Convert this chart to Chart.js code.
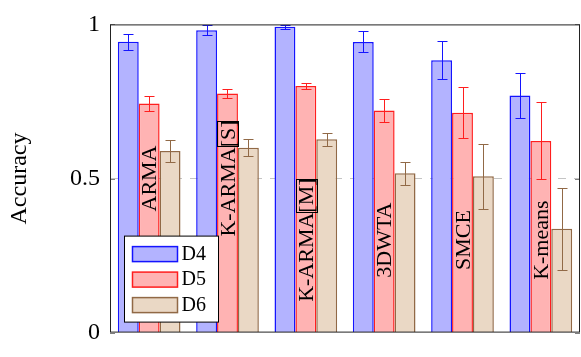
<!DOCTYPE html>
<html>
<head>
<meta charset="utf-8">
<script src="https://cdn.jsdelivr.net/npm/chart.js@4.4.1/dist/chart.umd.min.js"></script>
<style>
    body { margin: 0; background: #fff; }
    canvas { display: block; }
</style>
</head>
<body>
<canvas id="grafico" width="581" height="357"></canvas>
<script>
// --- DATA ---
const metodos = ['ARMA', 'K-ARMA[S]', 'K-ARMA[M]', '3DWTA', 'SMCE', 'K-means'];
const series = ['D4', 'D5', 'D6'];

const valoresD4 = [0.944, 0.981, 0.992, 0.943, 0.884, 0.769];
const valoresD5 = [0.743, 0.776, 0.800, 0.721, 0.713, 0.622];
const valoresD6 = [0.589, 0.600, 0.627, 0.517, 0.507, 0.337];

const errosD4 = [0.026, 0.017, 0.007, 0.034, 0.062, 0.072];
const errosD5 = [0.024, 0.014, 0.011, 0.038, 0.083, 0.125];
const errosD6 = [0.035, 0.028, 0.022, 0.038, 0.105, 0.133];

// where the method name sits inside the D5 bar (y value of its centre)
const posRotulos = [0.5, 0.5, 0.3, 0.3, 0.3, 0.3];
const yTicks = [0, 0.5, 1];

const fonte = "'Liberation Serif', 'Times New Roman', serif";

// --- PLUGINS ---

// error bars, one per bar, from the dataset's own error list
const barrasErro = {
    id: 'barrasErro',
    afterDatasetsDraw(chart) {
        const ctx = chart.ctx;
        const y = chart.scales.y;
        chart.data.datasets.forEach((ds, i) => {
            const meta = chart.getDatasetMeta(i);
            ctx.save();
            ctx.strokeStyle = ds.borderColor;
            ctx.lineWidth = 1;
            meta.data.forEach((bar, j) => {
                const v = ds.data[j];
                const e = ds.erros[j];
                const yTop = Math.round(y.getPixelForValue(v + e)) + 0.5;
                const yBot = Math.round(y.getPixelForValue(v - e)) + 0.5;
                const x = Math.round(bar.x) + 0.5;
                ctx.beginPath();
                ctx.moveTo(x, yTop); ctx.lineTo(x, yBot);
                ctx.moveTo(x - 5, yTop); ctx.lineTo(x + 5, yTop);
                ctx.moveTo(x - 5, yBot); ctx.lineTo(x + 5, yBot);
                ctx.stroke();
            });
            ctx.restore();
        });
    }
};

// rotated method names inside the D5 bars
const rotulos = {
    id: 'rotulos',
    afterDatasetsDraw(chart) {
        const ctx = chart.ctx;
        const y = chart.scales.y;
        const meta = chart.getDatasetMeta(1);
        ctx.save();
        ctx.font = '22px ' + fonte;
        ctx.fillStyle = '#000';
        ctx.textBaseline = 'alphabetic';
        ctx.textAlign = 'left';
        metodos.forEach((nome, j) => {
            const cx = meta.data[j].x;
            const cy = y.getPixelForValue(posRotulos[j]);
            const w = ctx.measureText(nome).width;
            ctx.save();
            ctx.translate(cx, cy);
            ctx.rotate(-Math.PI / 2);
            ctx.fillText(nome, -w / 2, 7);
            ctx.restore();
            // thin box around the bracketed part
            const k = nome.indexOf('[');
            if (k >= 0) {
                const a0 = -w / 2 + ctx.measureText(nome.slice(0, k)).width + 1;
                const a1 = w / 2 - 1;
                const left = Math.round(cx - 10) + 0.5;
                const right = Math.round(cx + 11) + 0.5;
                const top = Math.round(cy - a1) + 0.5;
                const bottom = Math.round(cy - a0) + 0.5;
                ctx.strokeStyle = '#000';
                ctx.lineWidth = 1;
                ctx.strokeRect(left, top, right - left, bottom - top);
            }
        });
        ctx.restore();
    }
};

// frame around the plot area plus the inner tick marks
const moldura = {
    id: 'moldura',
    afterDatasetsDraw(chart) {
        const { ctx, chartArea: a } = chart;
        const y = chart.scales.y;
        ctx.save();
        ctx.strokeStyle = '#808080';
        ctx.lineWidth = 1;
        ctx.beginPath();
        yTicks.forEach(v => {
            const py = Math.round(y.getPixelForValue(v)) + 0.5;
            ctx.moveTo(a.left, py); ctx.lineTo(a.left + 5, py);
            ctx.moveTo(a.right - 5, py); ctx.lineTo(a.right, py);
        });
        ctx.stroke();
        ctx.strokeStyle = '#222';
        ctx.strokeRect(a.left + 0.5, a.top + 0.5, a.right - a.left - 1, a.bottom - a.top - 1);
        ctx.restore();
    }
};

// boxed legend in the lower left corner of the plot
const legenda = {
    id: 'legenda',
    afterDraw(chart) {
        const { ctx, chartArea: a } = chart;
        const x0 = a.left + 14.5;
        const y0 = a.bottom - 96.5;
        ctx.save();
        ctx.fillStyle = '#fff';
        ctx.fillRect(x0, y0, 94, 86);
        ctx.strokeStyle = '#000';
        ctx.lineWidth = 1;
        ctx.strokeRect(x0, y0, 94, 86);
        ctx.font = '20px ' + fonte;
        ctx.textBaseline = 'middle';
        chart.data.datasets.forEach((ds, i) => {
            const cy = y0 + 17.5 + i * 25.5;
            ctx.fillStyle = ds.backgroundColor;
            ctx.fillRect(x0 + 8, cy - 7, 45, 15);
            ctx.strokeStyle = ds.borderColor;
            ctx.lineWidth = 1.5;
            ctx.strokeRect(x0 + 8, cy - 7, 45, 15);
            ctx.fillStyle = '#000';
            ctx.fillText(ds.label, x0 + 57, cy + 1);
        });
        ctx.restore();
    }
};

// --- CHART ---
const ctx = document.getElementById('grafico').getContext('2d');

new Chart(ctx, {
    type: 'bar',
    data: {
        labels: metodos,
        datasets: [
            {
                label: series[0],
                data: valoresD4,
                erros: errosD4,
                backgroundColor: 'rgb(179,179,255)',
                borderColor: 'rgb(20,20,255)',
                borderWidth: 1.5
            },
            {
                label: series[1],
                data: valoresD5,
                erros: errosD5,
                backgroundColor: 'rgb(255,179,179)',
                borderColor: 'rgb(255,30,30)',
                borderWidth: 1.5
            },
            {
                label: series[2],
                data: valoresD6,
                erros: errosD6,
                backgroundColor: 'rgb(234,216,197)',
                borderColor: 'rgb(145,105,70)',
                borderWidth: 1.5
            }
        ]
    },
    options: {
        responsive: false,
        animation: false,
        layout: { padding: { top: 16, right: 1, left: 0, bottom: 0 } },
        datasets: {
            bar: { categoryPercentage: 0.8, barPercentage: 1.0 }
        },
        plugins: {
            legend: { display: false },
            tooltip: { enabled: false }
        },
        scales: {
            x: {
                ticks: { display: false },
                grid: { display: false },
                border: { display: false },
                afterFit: s => { s.height = 17; }
            },
            y: {
                min: 0,
                max: 1,
                afterBuildTicks: s => { s.ticks = yTicks.map(v => ({ value: v })); },
                afterFit: s => { s.width = 110; },
                ticks: {
                    padding: 10,
                    color: '#000',
                    font: { family: fonte, size: 24 },
                    callback: v => String(v)
                },
                grid: {
                    drawTicks: false,
                    lineWidth: 1,
                    color: c => (c.tick && c.tick.value === 0.5) ? '#c4c4c4' : 'rgba(0,0,0,0)'
                },
                border: { display: false, dash: [8, 8] },
                title: {
                    display: true,
                    text: 'Accuracy',
                    color: '#000',
                    font: { family: fonte, size: 24 },
                    padding: { top: 5, bottom: 0 }
                }
            }
        }
    },
    plugins: [barrasErro, moldura, rotulos, legenda]
});
</script>
</body>
</html>
